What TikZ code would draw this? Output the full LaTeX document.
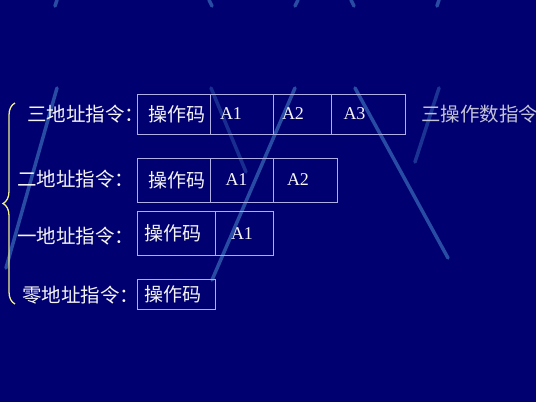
\documentclass[tikz,border=0pt]{standalone}
\usepackage{fontspec}
\setmainfont{Liberation Serif}
\newfontfamily\cjk{Noto Sans CJK SC}
\usetikzlibrary{positioning,decorations.pathreplacing}
\definecolor{slidebg}{RGB}{0,0,112}
\definecolor{streakcol}{RGB}{80,150,215}
\definecolor{cellline}{RGB}{175,175,230}
\definecolor{txt}{RGB}{245,245,245}
\definecolor{notecol}{RGB}{195,195,215}
\definecolor{bracecol}{RGB}{240,240,140}
\tikzset{
    cell/.style =   {rectangle,
                    draw=cellline,
                    line width=0.7pt,
                    text=txt,
                    inner sep=0pt,
                    outer sep=0pt,
                    align=left,
                    font=\fontsize{18}{20}\selectfont},
    opcode/.style = {cell,
                    font=\cjk\fontsize{19}{21}\selectfont},
    rowname/.style = {text=txt,
                    inner sep=0pt,
                    anchor=west,
                    font=\cjk\fontsize{19.5}{21}\selectfont},
    remark/.style = {rowname,
                    text=notecol,
                    font=\cjk\fontsize{19.5}{21}\selectfont},
    streak/.style = {streakcol,
                    line width=3.5pt,
                    opacity=0.5,
                    line cap=round},
    bracket/.style = {bracecol,
                    line width=1.3pt,
                    decorate,
                    decoration={brace,amplitude=12pt}},
    node distance=0pt}

\begin{document}
\begin{tikzpicture}[x=1pt,y=-1pt]
    \useasboundingbox (0,0) rectangle (536,402);
    \fill[slidebg] (0,0) rectangle (536,402);

    % background streaks
    \draw[streak] (57,0) -- (55,6);
    \draw[streak] (209,0) -- (212,6);
    \draw[streak] (298,0) -- (295,6);
    \draw[streak] (351,0) -- (354,6);
    \draw[streak] (439,0) -- (437,6);
    \draw[streak] (57,88) -- (6,268);
    \draw[streak, opacity=0.3] (211,88) -- (246,172);
    \draw[streak] (295,88) -- (212,280);
    \draw[streak] (355,88) -- (448,258);
    \draw[streak, opacity=0.35] (439,88) -- (415,162);

    % three addresses
    \node[opcode, anchor=north west, text width=72.5pt, minimum height=40pt] (op3) at (137.5,94) {\hspace*{11pt}操作码};
    \node[cell, text width=63.5pt, minimum height=40pt] (a31) [right=of op3] {\hspace*{10pt}A1};
    \node[cell, text width=58pt, minimum height=40pt]   (a32) [right=of a31] {\hspace*{8.5pt}A2};
    \node[cell, text width=73.5pt, minimum height=40pt] (a33) [right=of a32] {\hspace*{12pt}A3};

    % two addresses
    \node[opcode, anchor=north west, text width=72.5pt, minimum height=44pt] (op2) at (137.5,158) {\hspace*{11pt}操作码};
    \node[cell, text width=63.5pt, minimum height=44pt] (a21) [right=of op2] {\hspace*{15.5pt}A1};
    \node[cell, text width=64pt, minimum height=44pt]   (a22) [right=of a21] {\hspace*{13.5pt}A2};

    % one address
    \node[opcode, anchor=north west, text width=78pt, minimum height=44pt] (op1) at (137.5,211.5) {\hspace*{6.5pt}操作码};
    \node[cell, text width=58pt, minimum height=44pt] (a11) [right=of op1] {\hspace*{15.5pt}A1};

    % zero address
    \node[opcode, anchor=north west, text width=78pt, minimum height=30pt] (op0) at (137.5,279.5) {\hspace*{6.5pt}操作码};

    % row names
    \node[rowname] (three) at (27,114) {三地址指令：};
    \node[rowname] (two)   at (17,179) {二地址指令：};
    \node[rowname] (one)   at (17,236) {一地址指令：};
    \node[rowname] (zero)  at (22,295) {零地址指令：};
    \node[remark]  (note3) at (421,114) {三操作数指令};

    % brace
    \coordinate (braceTop) at (15,103);
    \coordinate (braceBot) at (15,304);
    \draw[bracket] (braceBot) -- (braceTop);
\end{tikzpicture}
\end{document}
